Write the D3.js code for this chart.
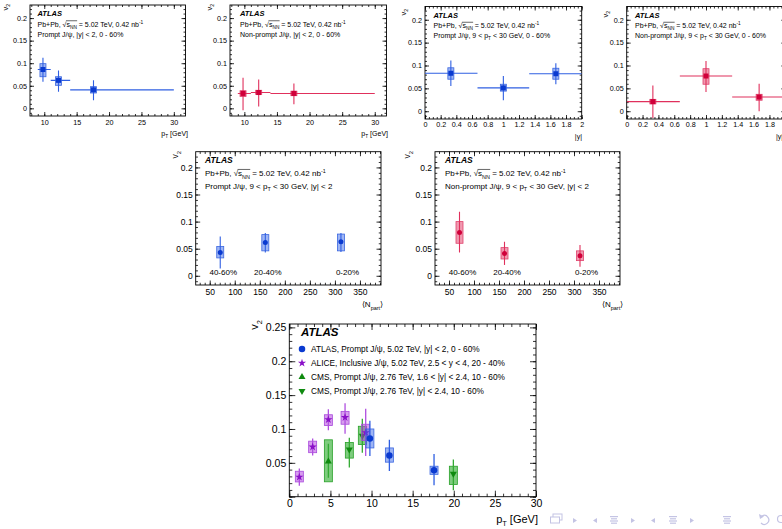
<!DOCTYPE html>
<html><head><meta charset="utf-8">
<script src="https://cdn.jsdelivr.net/npm/d3@7"></script>
<style>body{margin:0;background:#fff} svg{display:block} text{font-family:"Liberation Sans",Arial,Helvetica,sans-serif}</style>
</head><body><svg id="c" width="782" height="529"></svg>
<script>
// ---------------- DATA ----------------
const ptCenters = [9.8, 12.2, 17.6];
const ptBinLow = [9, 11, 14];
const ptBinHigh = [11, 14, 30];
const promptPtV2 = [0.086, 0.062, 0.041];
const promptPtStatLo = [0.059, 0.037, 0.018];
const promptPtStatHi = [0.112, 0.084, 0.062];
const promptPtSysLo = [0.070, 0.051, 0.034];
const promptPtSysHi = [0.099, 0.070, 0.048];
const nonpromptPtV2 = [0.033, 0.035, 0.033];
const nonpromptPtStatLo = [-0.004, 0.004, 0.009];
const nonpromptPtStatHi = [0.068, 0.064, 0.055];
const nonpromptPtSysLo = [0.026, 0.031, 0.028];
const nonpromptPtSysHi = [0.039, 0.040, 0.038];

const yCenters = [0.33, 1.0, 1.67];
const yBinLow = [0, 0.67, 1.33];
const yBinHigh = [0.67, 1.33, 2.0];
const promptYV2 = [0.083, 0.051, 0.082];
const promptYStatLo = [0.055, 0.024, 0.059];
const promptYStatHi = [0.111, 0.077, 0.105];
const promptYSysLo = [0.070, 0.044, 0.070];
const promptYSysHi = [0.095, 0.059, 0.094];
const nonpromptYV2 = [0.021, 0.077, 0.031];
const nonpromptYStatLo = [-0.015, 0.042, 0.0];
const nonpromptYStatHi = [0.056, 0.110, 0.060];
const nonpromptYSysLo = [0.016, 0.059, 0.024];
const nonpromptYSysHi = [0.026, 0.093, 0.037];

const npartValues = [71, 161, 312];
const centralityLabels = ["40-60%", "20-40%", "0-20%"];
const centralityLabelNpart = [77, 166, 325];
const promptNpV2 = [0.043, 0.0615, 0.063];
const promptNpStatLo = [0.0135, 0.043, 0.044];
const promptNpStatHi = [0.0726, 0.079, 0.079];
const promptNpSysLo = [0.033, 0.046, 0.046];
const promptNpSysHi = [0.054, 0.076, 0.077];
const nonpromptNpV2 = [0.080, 0.041, 0.037];
const nonpromptNpStatLo = [0.043, 0.020, 0.0166];
const nonpromptNpStatHi = [0.118, 0.063, 0.057];
const nonpromptNpSysLo = [0.060, 0.031, 0.028];
const nonpromptNpSysHi = [0.100, 0.052, 0.046];

// comparison panel
const atlasPt = [9.8, 12.17, 17.6];
const atlasV2 = [0.0858, 0.061, 0.039];
const atlasStatLo = [0.060, 0.038, 0.017];
const atlasStatHi = [0.112, 0.084, 0.063];
const atlasSysLo = [0.072, 0.051, 0.033];
const atlasSysHi = [0.100, 0.072, 0.045];
const alicePt = [1.22, 2.84, 4.75, 6.78, 9.29];
const aliceV2 = [0.029, 0.0735, 0.114, 0.117, 0.0947];
const aliceStatLo = [0.016, 0.061, 0.098, 0.093, 0.060];
const aliceStatHi = [0.0416, 0.086, 0.129, 0.138, 0.130];
const aliceSysLo = [0.0218, 0.065, 0.105, 0.107, 0.083];
const aliceSysHi = [0.0376, 0.082, 0.121, 0.126, 0.107];
const cmsFwdPt = [4.75];
const cmsFwdV2 = [0.052];
const cmsFwdStatLo = [0.028];
const cmsFwdStatHi = [0.078];
const cmsFwdSysLo = [0.022];
const cmsFwdSysHi = [0.084];
const cmsMidPt = [7.3, 8.88, 19.95];
const cmsMidV2 = [0.0696, 0.090, 0.034];
const cmsMidStatLo = [0.043, 0.065, 0.0096];
const cmsMidStatHi = [0.087, 0.115, 0.055];
const cmsMidSysLo = [0.057, 0.077, 0.018];
const cmsMidSysHi = [0.080, 0.104, 0.045];

const v2Ticks = [0, 0.05, 0.1, 0.15, 0.2];
const v2TicksBig = [0.05, 0.1, 0.15, 0.2, 0.25];
const ptTicks = [10, 15, 20, 25, 30];
const ptTicksBig = [0, 5, 10, 15, 20, 25, 30];
const rapTicks = [0, 0.2, 0.4, 0.6, 0.8, 1, 1.2, 1.4, 1.6, 1.8, 2];
const npartTicks = [50, 100, 150, 200, 250, 300, 350];
const legendLabels = [
  "ATLAS, Prompt J/\u03c8, 5.02 TeV, |y| < 2, 0 - 60%",
  "ALICE, Inclusive J/\u03c8, 5.02 TeV, 2.5 < y < 4, 20 - 40%",
  "CMS, Prompt J/\u03c8, 2.76 TeV, 1.6 < |y| < 2.4, 10 - 60%",
  "CMS, Prompt J/\u03c8, 2.76 TeV, |y| < 2.4, 10 - 60%"
];

// ---------------- STYLES ----------------
const COL = {
  blue:   {m: "#0a3ad0", l: "#2f5fe2", f: "rgba(40,90,230,0.45)", s: "#3a66e0"},
  red:    {m: "#d0003a", l: "#e0305c", f: "rgba(222,30,80,0.45)", s: "#e0406c"},
  purple: {m: "#8a10c8", l: "#b050e0", f: "rgba(175,60,222,0.5)", s: "#a848dc"},
  green:  {m: "#0f8a0f", l: "#34aa34", f: "rgba(40,170,40,0.6)", s: "#27a027"}
};

const svg = d3.select("#c");
let clipId = 0;

function zip(xs, v, sl, sh, yl, yh, bl, bh) {
  return xs.map((x, i) => ({x, v: v[i], sl: sl[i], sh: sh[i], yl: yl[i], yh: yh[i],
    bl: bl ? bl[i] : null, bh: bh ? bh[i] : null}));
}

function rich(g, x, y, segs, size, opts = {}) {
  const t = g.append("text").attr("x", x).attr("y", y).attr("font-size", size).attr("fill", "#000");
  if (opts.anchor) t.attr("text-anchor", opts.anchor);
  if (opts.transform) t.attr("transform", opts.transform);
  if (opts.weight) t.attr("font-weight", opts.weight);
  if (opts.style) t.attr("font-style", opts.style);
  let cur = 0;
  const nodes = [];
  segs.forEach(s => {
    const off = s.sub ? size * 0.32 : s.sup ? -size * 0.42 : 0;
    const ts = t.append("tspan").text(s.t).attr("dy", off - cur);
    if (s.sub || s.sup) ts.attr("font-size", size * 0.68);
    cur = off;
    nodes.push({s, n: ts.node()});
  });
  const ov = nodes.filter(d => d.s.over);
  if (ov.length) {
    const a = ov[0].n, b = ov[ov.length - 1].n;
    const x0 = a.getStartPositionOfChar(0).x;
    const x1 = b.getEndPositionOfChar(b.getNumberOfChars() - 1).x;
    g.append("line").attr("x1", x0 - 0.5).attr("x2", x1 + 0.3)
      .attr("y1", y - size * 0.82).attr("y2", y - size * 0.82)
      .attr("stroke", "#000").attr("stroke-width", 0.6);
  }
  return t;
}

const fmt = d => d3.format("~g")(d);

function panel(c) {
  const g = svg.append("g");
  const x = d3.scaleLinear().domain(c.xDomain).range([c.left, c.right]);
  const y = d3.scaleLinear().domain(c.yDomain).range([c.bottom, c.top]);
  const id = "clip" + (clipId++);
  g.append("clipPath").attr("id", id).append("rect")
    .attr("x", c.left).attr("y", c.top).attr("width", c.right - c.left).attr("height", c.bottom - c.top);
  const M = c.major, m = c.major / 2;
  const styleAxis = (sel, show) => {
    sel.attr("font-size", c.tickFont).attr("font-family", null);
    sel.selectAll(".tick line").attr("stroke", "#000").attr("stroke-width", 0.8);
    sel.select(".domain").remove();
    if (!show) sel.selectAll("text").remove();
    else sel.selectAll("text").attr("fill", "#000");
  };
  const xMinor = d3.range(Math.ceil(c.xDomain[0] / c.xMinorStep - 1e-9) * c.xMinorStep, c.xDomain[1] + 1e-9, c.xMinorStep);
  const yMinor = d3.range(Math.ceil(c.yDomain[0] / c.yMinorStep - 1e-9) * c.yMinorStep, c.yDomain[1] + 1e-9, c.yMinorStep);
  const xMajorAll = d3.range(Math.ceil(c.xDomain[0] / c.xMajorStep - 1e-9) * c.xMajorStep, c.xDomain[1] + 1e-9, c.xMajorStep);
  const yMajorAll = d3.range(Math.ceil(c.yDomain[0] / c.yMajorStep - 1e-9) * c.yMajorStep, c.yDomain[1] + 1e-9, c.yMajorStep);
  g.append("g").attr("transform", `translate(0,${c.bottom})`)
    .call(d3.axisBottom(x).tickValues(xMinor).tickSize(-m).tickSizeOuter(0).tickFormat("")).call(s => styleAxis(s, false));
  g.append("g").attr("transform", `translate(0,${c.bottom})`)
    .call(d3.axisBottom(x).tickValues(xMajorAll).tickSize(-M).tickSizeOuter(0).tickFormat("")).call(s => styleAxis(s, false));
  g.append("g").attr("transform", `translate(0,${c.bottom})`)
    .call(d3.axisBottom(x).tickValues(c.xTicks).tickSize(0).tickSizeOuter(0).tickPadding(c.xPad).tickFormat(fmt)).call(s => styleAxis(s, true));
  g.append("g").attr("transform", `translate(0,${c.top})`)
    .call(d3.axisTop(x).tickValues(xMinor).tickSize(-m).tickSizeOuter(0).tickFormat("")).call(s => styleAxis(s, false));
  g.append("g").attr("transform", `translate(0,${c.top})`)
    .call(d3.axisTop(x).tickValues(xMajorAll).tickSize(-M).tickSizeOuter(0).tickFormat("")).call(s => styleAxis(s, false));
  g.append("g").attr("transform", `translate(${c.left},0)`)
    .call(d3.axisLeft(y).tickValues(yMinor).tickSize(-m).tickSizeOuter(0).tickFormat("")).call(s => styleAxis(s, false));
  g.append("g").attr("transform", `translate(${c.left},0)`)
    .call(d3.axisLeft(y).tickValues(yMajorAll).tickSize(-M).tickSizeOuter(0).tickFormat("")).call(s => styleAxis(s, false));
  g.append("g").attr("transform", `translate(${c.left},0)`)
    .call(d3.axisLeft(y).tickValues(c.yTicks).tickSize(0).tickSizeOuter(0).tickPadding(c.yPad).tickFormat(fmt)).call(s => styleAxis(s, true));
  g.append("g").attr("transform", `translate(${c.right},0)`)
    .call(d3.axisRight(y).tickValues(yMinor).tickSize(-m).tickSizeOuter(0).tickFormat("")).call(s => styleAxis(s, false));
  g.append("g").attr("transform", `translate(${c.right},0)`)
    .call(d3.axisRight(y).tickValues(yMajorAll).tickSize(-M).tickSizeOuter(0).tickFormat("")).call(s => styleAxis(s, false));
  g.append("rect").attr("x", c.left).attr("y", c.top).attr("width", c.right - c.left).attr("height", c.bottom - c.top)
    .attr("fill", "none").attr("stroke", "#000").attr("stroke-width", 0.9);

  const dg = g.append("g").attr("clip-path", `url(#${id})`);
  (c.series || []).forEach(sr => drawSeries(dg, x, y, sr));

  if (c.xTitle) rich(g, c.xTitle.x, c.xTitle.y, c.xTitle.segs, c.xTitle.size, {anchor: c.xTitle.anchor || "end"});
  if (c.yTitle) rich(g, c.yTitle.x, c.yTitle.y, [{t: "v"}, {t: "2", sub: true}], c.yTitle.size,
    {anchor: "end", transform: `rotate(-90 ${c.yTitle.x} ${c.yTitle.y})`});
  return {g, x, y};
}

function marker(g, px, py, shape, size, color) {
  if (shape === "square") {
    g.append("rect").attr("x", px - size / 2).attr("y", py - size / 2).attr("width", size).attr("height", size).attr("fill", color);
  } else if (shape === "circle") {
    g.append("circle").attr("cx", px).attr("cy", py).attr("r", size / 2).attr("fill", color);
  } else {
    const sym = shape === "star" ? d3.symbolStar : d3.symbolTriangle;
    const p = g.append("path").attr("d", d3.symbol().type(sym).size(size * size * (shape === "star" ? 0.5 : 0.5))())
      .attr("fill", color);
    p.attr("transform", `translate(${px},${py})` + (shape === "down" ? " rotate(180)" : ""));
  }
}

function drawSeries(g, x, y, sr) {
  const col = COL[sr.color];
  sr.points.forEach(p => {
    g.append("rect").attr("x", x(p.x) - sr.boxW / 2).attr("width", sr.boxW)
      .attr("y", y(p.yh)).attr("height", y(p.yl) - y(p.yh))
      .attr("fill", col.f).attr("stroke", col.s).attr("stroke-width", 0.8);
  });
  sr.points.forEach(p => {
    g.append("line").attr("x1", x(p.x)).attr("x2", x(p.x)).attr("y1", y(p.sl)).attr("y2", y(p.sh))
      .attr("stroke", col.l).attr("stroke-width", sr.lw);
    if (p.bl != null) {
      g.append("line").attr("x1", x(p.bl)).attr("x2", x(p.bh)).attr("y1", y(p.v)).attr("y2", y(p.v))
        .attr("stroke", col.l).attr("stroke-width", sr.lw);
    }
  });
  sr.points.forEach(p => marker(g, x(p.x), y(p.v), sr.shape, sr.size, col.m));
}

const sqrtSegs = [{t: "Pb+Pb, "}, {t: "\u221a"}, {t: "s", over: true}, {t: "NN", sub: true, over: true},
  {t: " = 5.02 TeV, 0.42 nb"}, {t: "-1", sup: true}];
const ptTitle = [{t: "p"}, {t: "T", sub: true}, {t: " [GeV]"}];
const npTitle = [{t: "\u27e8N"}, {t: "part", sub: true}, {t: "\u27e9"}];

function labels(g, x0, ys, line3, size) {
  rich(g, x0, ys[0], [{t: "ATLAS"}], size + 0.5, {weight: "bold", style: "italic"});
  rich(g, x0, ys[1], sqrtSegs, size);
  rich(g, x0, ys[2], line3, size);
}

const topY = [-0.017, 0.229];

// Panel 1
{
  const P = panel({left: 30, right: 185.5, top: 5, bottom: 116, xDomain: [7.8, 31.8], yDomain: topY,
    xTicks: ptTicks, yTicks: v2Ticks, xMajorStep: 5, xMinorStep: 1, yMajorStep: 0.05, yMinorStep: 0.01,
    major: 4, tickFont: 7.2, xPad: 3.5, yPad: 3,
    xTitle: {x: 188, y: 136, segs: ptTitle, size: 7}, yTitle: {x: 8, y: 4, size: 7.5},
    series: [{color: "blue", shape: "square", size: 5, boxW: 6, lw: 1.1,
      points: zip(ptCenters, promptPtV2, promptPtStatLo, promptPtStatHi, promptPtSysLo, promptPtSysHi, ptBinLow, ptBinHigh)}]});
  labels(P.g, 37.5, [16, 26.5, 36.5], [{t: "Prompt J/\u03c8, |y| < 2, 0 - 60%"}], 7);
}
// Panel 2
{
  const P = panel({left: 230, right: 386.5, top: 5, bottom: 116, xDomain: [7.8, 31.8], yDomain: topY,
    xTicks: ptTicks, yTicks: v2Ticks, xMajorStep: 5, xMinorStep: 1, yMajorStep: 0.05, yMinorStep: 0.01,
    major: 4, tickFont: 7.2, xPad: 3.5, yPad: 3,
    xTitle: {x: 388, y: 136, segs: ptTitle, size: 7}, yTitle: {x: 212, y: 4, size: 7.5},
    series: [{color: "red", shape: "square", size: 5, boxW: 6, lw: 1.1,
      points: zip(ptCenters, nonpromptPtV2, nonpromptPtStatLo, nonpromptPtStatHi, nonpromptPtSysLo, nonpromptPtSysHi, ptBinLow, ptBinHigh)}]});
  labels(P.g, 240, [16, 26.5, 36.5], [{t: "Non-prompt J/\u03c8, |y| < 2, 0 - 60%"}], 7);
}
// Panel 3
{
  const P = panel({left: 425, right: 581.7, top: 6.5, bottom: 119, xDomain: [0, 2], yDomain: topY,
    xTicks: rapTicks, yTicks: v2Ticks, xMajorStep: 0.2, xMinorStep: 0.05, yMajorStep: 0.05, yMinorStep: 0.01,
    major: 4, tickFont: 7.2, xPad: 3, yPad: 3,
    xTitle: {x: 582, y: 139, segs: [{t: "|y|"}], size: 7}, yTitle: {x: 406, y: 9, size: 7.5},
    series: [{color: "blue", shape: "square", size: 5, boxW: 6, lw: 1.1,
      points: zip(yCenters, promptYV2, promptYStatLo, promptYStatHi, promptYSysLo, promptYSysHi, yBinLow, yBinHigh)}]});
  labels(P.g, 433.5, [18, 28, 38], [{t: "Prompt J/\u03c8, 9 < p"}, {t: "T", sub: true}, {t: " < 30 GeV, 0 - 60%"}], 7);
}
// Panel 4
{
  const P = panel({left: 626.7, right: 785.3, top: 6.5, bottom: 119, xDomain: [0, 2], yDomain: topY,
    xTicks: rapTicks.slice(0, 10), yTicks: v2Ticks, xMajorStep: 0.2, xMinorStep: 0.05, yMajorStep: 0.05, yMinorStep: 0.01,
    major: 4, tickFont: 7.2, xPad: 3, yPad: 3,
    xTitle: {x: 776, y: 139, segs: [{t: "|y|"}], size: 7, anchor: "start"}, yTitle: {x: 608, y: 11, size: 7.5},
    series: [{color: "red", shape: "square", size: 5, boxW: 6, lw: 1.1,
      points: zip(yCenters, nonpromptYV2, nonpromptYStatLo, nonpromptYStatHi, nonpromptYSysLo, nonpromptYSysHi, yBinLow, yBinHigh)}]});
  labels(P.g, 635, [18, 28, 38], [{t: "Non-prompt J/\u03c8, 9 < p"}, {t: "T", sub: true}, {t: " < 30 GeV, 0 - 60%"}], 7);
}
// Panel 5
{
  const P = panel({left: 195.7, right: 381, top: 151.7, bottom: 285, xDomain: [22, 392], yDomain: topY,
    xTicks: npartTicks, yTicks: v2Ticks, xMajorStep: 50, xMinorStep: 10, yMajorStep: 0.05, yMinorStep: 0.01,
    major: 4.5, tickFont: 8.5, xPad: 3.5, yPad: 3,
    xTitle: {x: 383, y: 307, segs: npTitle, size: 8}, yTitle: {x: 178, y: 151, size: 8.5},
    series: [{color: "blue", shape: "circle", size: 5, boxW: 7, lw: 1.1,
      points: zip(npartValues, promptNpV2, promptNpStatLo, promptNpStatHi, promptNpSysLo, promptNpSysHi)}]});
  labels(P.g, 205, [163, 176, 188.5], [{t: "Prompt J/\u03c8, 9 < p"}, {t: "T", sub: true}, {t: " < 30 GeV, |y| < 2"}], 8);
  centralityLabels.forEach((t, i) => P.g.append("text").attr("x", P.x(centralityLabelNpart[i])).attr("y", P.y(0) - 0.5)
    .attr("text-anchor", "middle").attr("font-size", 8).text(t));
}
// Panel 6
{
  const P = panel({left: 435, right: 620, top: 151.7, bottom: 285, xDomain: [22, 392], yDomain: topY,
    xTicks: npartTicks, yTicks: v2Ticks, xMajorStep: 50, xMinorStep: 10, yMajorStep: 0.05, yMinorStep: 0.01,
    major: 4.5, tickFont: 8.5, xPad: 3.5, yPad: 3,
    xTitle: {x: 602, y: 307, segs: npTitle, size: 8, anchor: "start"}, yTitle: {x: 410, y: 151, size: 8.5},
    series: [{color: "red", shape: "circle", size: 5, boxW: 7, lw: 1.1,
      points: zip(npartValues, nonpromptNpV2, nonpromptNpStatLo, nonpromptNpStatHi, nonpromptNpSysLo, nonpromptNpSysHi)}]});
  labels(P.g, 445, [163, 176, 188.5], [{t: "Non-prompt J/\u03c8, 9 < p"}, {t: "T", sub: true}, {t: " < 30 GeV, |y| < 2"}], 8);
  centralityLabels.forEach((t, i) => P.g.append("text").attr("x", P.x(centralityLabelNpart[i])).attr("y", P.y(0) - 0.5)
    .attr("text-anchor", "middle").attr("font-size", 8).text(t));
}
// Panel 7 comparison
{
  const P = panel({left: 289.3, right: 536, top: 324, bottom: 496.7, xDomain: [0, 30], yDomain: [0, 0.255],
    xTicks: ptTicksBig, yTicks: v2TicksBig, xMajorStep: 5, xMinorStep: 1, yMajorStep: 0.05, yMinorStep: 0.01,
    major: 6, tickFont: 10.5, xPad: 3, yPad: 3,
    xTitle: {x: 538, y: 522.5, segs: ptTitle, size: 11}, yTitle: {x: 258, y: 320, size: 11},
    series: [
      {color: "green", shape: "up", size: 6.5, boxW: 8, lw: 1.3,
        points: zip(cmsFwdPt, cmsFwdV2, cmsFwdStatLo, cmsFwdStatHi, cmsFwdSysLo, cmsFwdSysHi)},
      {color: "green", shape: "down", size: 6.5, boxW: 8, lw: 1.3,
        points: zip(cmsMidPt, cmsMidV2, cmsMidStatLo, cmsMidStatHi, cmsMidSysLo, cmsMidSysHi)},
      {color: "purple", shape: "star", size: 6.5, boxW: 8, lw: 1.3,
        points: zip(alicePt, aliceV2, aliceStatLo, aliceStatHi, aliceSysLo, aliceSysHi)},
      {color: "blue", shape: "circle", size: 6.5, boxW: 8, lw: 1.3,
        points: zip(atlasPt, atlasV2, atlasStatLo, atlasStatHi, atlasSysLo, atlasSysHi)}
    ]});
  rich(P.g, 301, 335.5, [{t: "ATLAS"}], 11.5, {weight: "bold", style: "italic"});
  const legCols = ["blue", "purple", "green", "green"];
  const legShapes = ["circle", "star", "up", "down"];
  const legSizes = [6.5, 6.5, 6.5, 6.5];
  const legY = [349, 363, 377, 391];
  legendLabels.forEach((t, i) => {
    marker(P.g, 302, legY[i], legShapes[i], legSizes[i], COL[legCols[i]].m);
    P.g.append("text").attr("x", 311).attr("y", legY[i] + 3).attr("font-size", 8.3).text(t);
  });
}

// ---------------- Beamer navigation symbols ----------------
{
  const nc = "#c4c4e4";
  const n = svg.append("g").attr("fill", nc).attr("stroke", nc);
  n.append("rect").attr("x", 553).attr("y", 514).attr("width", 9).attr("height", 6).attr("fill", "none").attr("stroke-width", 1);
  n.append("rect").attr("x", 550.5).attr("y", 517).attr("width", 9).attr("height", 6).attr("fill", "#fff").attr("stroke-width", 1);
  const tri = (cx, dir) => n.append("path").attr("stroke", "none")
    .attr("d", dir > 0 ? `M${cx - 2},${518} L${cx + 2},${520.5} L${cx - 2},${523} Z` : `M${cx + 2},${518} L${cx - 2},${520.5} L${cx + 2},${523} Z`);
  const bars = (cx) => { [0, 1, 2, 3].forEach(k => n.append("rect").attr("stroke", "none").attr("x", cx - 4 + (k % 2 ? 1 : 0)).attr("y", 516 + k * 2.2).attr("width", k % 2 ? 6 : 8).attr("height", 1.2)); };
  tri(575, 1); tri(595, -1); bars(614); tri(633, 1); tri(653, -1); bars(673); tri(692, 1); bars(727);
  n.append("path").attr("fill", "none").attr("stroke-width", 1.2).attr("d", "M762,516 A4.5,4.5 0 1 1 761,523");
  n.append("path").attr("stroke", "none").attr("d", "M759,514 L764,516.5 L760,519 Z");
  n.append("circle").attr("cx", 781).attr("cy", 519).attr("r", 3.5).attr("fill", "none").attr("stroke-width", 1.2);
}
</script></body></html>
